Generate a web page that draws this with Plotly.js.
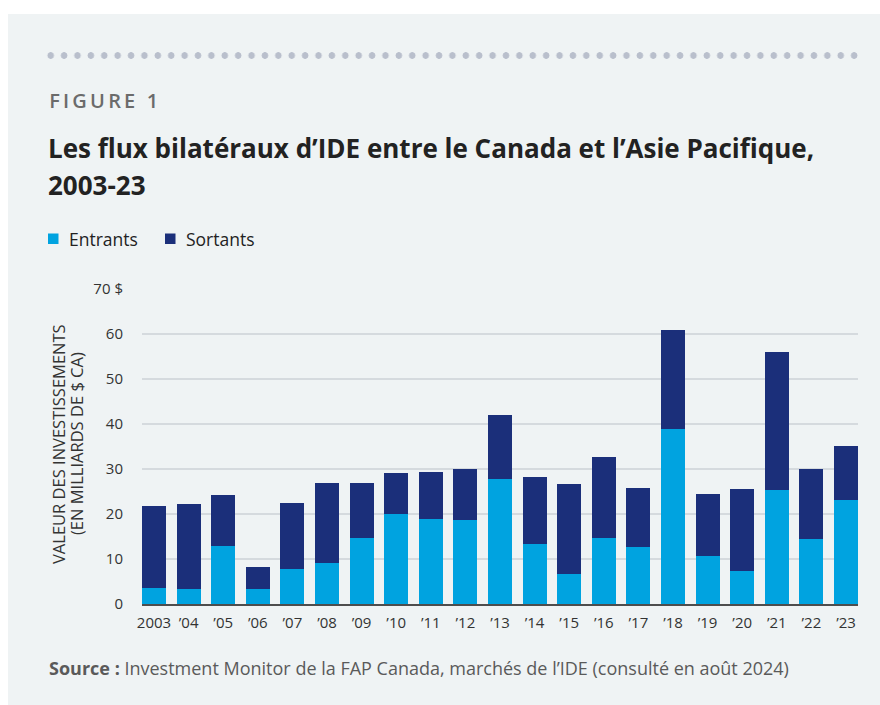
<!DOCTYPE html>
<html><head><meta charset="utf-8">
<script src="https://cdn.plot.ly/plotly-3.0.1.min.js"></script>
<style>
html,body{margin:0;padding:0;background:#ffffff;width:880px;height:705px;overflow:hidden;}
#chart{position:absolute;left:8px;top:14px;width:872px;height:691px;}
#dots{position:absolute;left:44.3px;top:51.5px;width:817px;height:7px;z-index:5;
background-image:radial-gradient(circle at center,#b9bfcc 3px,rgba(185,191,204,0) 3.6px);
background-size:13.4px 7px;background-repeat:repeat-x;}
</style></head>
<body>
<div id="chart"></div>
<div id="dots"></div>
<script>
// Data (milliards de $ CA)
const years = ['2003','2004','2005','2006','2007','2008','2009','2010','2011','2012','2013','2014','2015','2016','2017','2018','2019','2020','2021','2022','2023'];
const yearLabels = ['2003','’04','’05','’06','’07','’08','’09','’10','’11','’12','’13','’14','’15','’16','’17','’18','’19','’20','’21','’22','’23'];
const entrants = [3.6,3.3,12.9,3.3,7.8,9.1,14.7,20.0,18.9,18.7,27.8,13.3,6.7,14.7,12.7,38.9,10.7,7.3,25.3,14.4,23.1];
const totals   = [21.8,22.2,24.2,8.2,22.4,26.9,26.9,29.1,29.3,30.0,42.0,28.2,26.7,32.7,25.8,60.9,24.4,25.6,56.0,30.0,35.1];
const sortants = totals.map((t,i)=>+(t-entrants[i]).toFixed(1));
const yTickVals = [0,10,20,30,40,50,60,70];
const yTickText = ['0','10','20','30','40','50','60','70 $'];

const C_IN = '#00a3e0', C_OUT = '#1b2f7a';
const FONT = '"Open Sans", Lato, sans-serif';

// page-pixel -> plot-paper helpers (plot area: x 142..858, y 289..604 on page)
const X = px => (px-142)/716;
const Y = py => (604-py)/315;

const traces = [
  {type:'bar', name:'Entrants', x:years, y:entrants, marker:{color:C_IN}, hoverinfo:'x+y+name'},
  {type:'bar', name:'Sortants', x:years, y:sortants, marker:{color:C_OUT}, hoverinfo:'x+y+name'}
];

const ann = (text,px,py,size,color,opts={}) => Object.assign({
  text:text, xref:'paper', yref:'paper', x:X(px), y:Y(py), xanchor:'left', yanchor:'middle',
  showarrow:false, font:{family:FONT,size:size,color:color}}, opts);

const layout = {
  width:872, height:691,
  margin:{l:134, r:22, t:275, b:101, pad:0},
  paper_bgcolor:'#eff3f4', plot_bgcolor:'rgba(0,0,0,0)',
  barmode:'stack', bargap:0.306,
  showlegend:false,
  font:{family:FONT, size:15, color:'#333333'},
  xaxis:{type:'category', categoryorder:'array', categoryarray:years,
    tickvals:years, ticktext:yearLabels, range:[-0.347,20.347],
    showgrid:false, zeroline:false, showline:true, linecolor:'#4d4d4d', linewidth:1.5,
    ticks:'', ticklabelstandoff:4, tickfont:{family:FONT,size:15,color:'#333333'}, fixedrange:true},
  yaxis:{range:[0,70], tickvals:yTickVals, ticktext:yTickText,
    showgrid:true, gridcolor:'#d5dade', gridwidth:1.5, zeroline:false, showline:false,
    ticks:'', ticklabelstandoff:18, tickfont:{family:FONT,size:15,color:'#333333'}, fixedrange:true},
  annotations:[
    ann('FIGURE 1',60,101,20,'#6b6b6b',{font:{family:FONT,size:20,color:'#6b6b6b',weight:600}}),
    ann('Les flux bilatéraux d’IDE entre le Canada et l’Asie Pacifique,',46,148,26,'#222222',{font:{family:FONT,size:26,color:'#222222',weight:700}}),
    ann('2003-23',46,185,26,'#222222',{font:{family:FONT,size:26,color:'#222222',weight:700}}),
    ann('Entrants',67,239,17.5,'#222222'),
    ann('Sortants',184,239,17.5,'#222222'),
    ann('VALEUR DES INVESTISSEMENTS',58,444,16.5,'#333333',{xanchor:'center',textangle:-90}),
    ann('(EN MILLIARDS DE $ CA)',76,444,16.5,'#333333',{xanchor:'center',textangle:-90}),
    ann('<b>Source :</b> Investment Monitor de la FAP Canada, marchés de l’IDE (consulté en août 2024)',47,668,18,'#5a5a5a')
  ],
  shapes:[
    {type:'rect', xref:'paper', yref:'paper', x0:X(48), x1:X(58.5), y0:Y(233.5), y1:Y(244), fillcolor:C_IN, line:{width:0}},
    {type:'rect', xref:'paper', yref:'paper', x0:X(165), x1:X(175.5), y0:Y(233.5), y1:Y(244), fillcolor:C_OUT, line:{width:0}}
  ]
};

Plotly.newPlot('chart', traces, layout, {displayModeBar:false, staticPlot:true}).then(()=>{
  document.querySelectorAll('.annotation-text').forEach(t=>{
    if (t.textContent==='FIGURE 1') t.style.letterSpacing='3.2px';
  });
});
</script>
</body></html>
